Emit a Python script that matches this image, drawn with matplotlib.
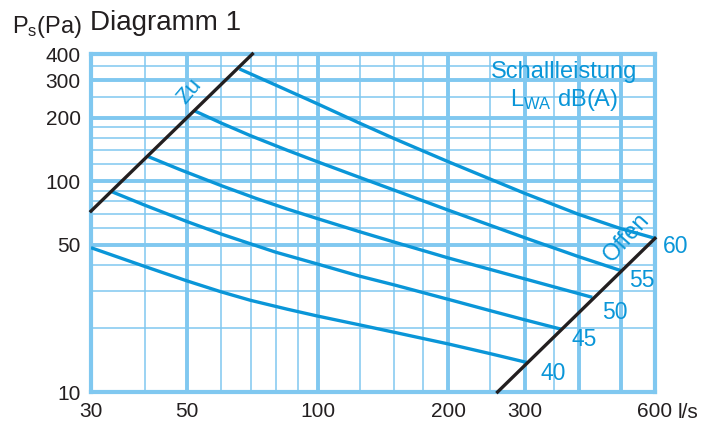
import matplotlib
matplotlib.use("Agg")
import matplotlib.pyplot as plt

plt.rcParams['font.family'] = ['Liberation Sans', 'DejaVu Sans']
plt.rcParams['mathtext.default'] = 'regular'

# Volumenstrom (l/s) und statischer Druck (Pa)
curve_levels = ['40', '45', '50', '55', '60']
curve_q = [
    [30, 40, 50, 60, 70, 85, 100, 125, 150, 200, 250, 304],
    [33.5, 40, 50, 60, 80, 100, 125, 150, 200, 250, 300, 366],
    [40.5, 48, 60, 72, 85, 100, 125, 150, 200, 300, 430],
    [52, 60, 70, 85, 100, 125, 150, 200, 300, 400, 505],
    [66, 80, 100, 125, 150, 200, 300, 400, 500, 600],
]
curve_p = [
    [48.3, 39.3, 33.6, 29.8, 27.2, 24.7, 22.9, 20.8, 19.2, 16.9, 15.2, 13.8],
    [89, 76.7, 64.2, 56.0, 46.0, 40.4, 35.4, 32.2, 27.5, 24.3, 22.0, 19.8],
    [131, 113.5, 95, 82.8, 73.7, 66.3, 57.5, 51.4, 43.2, 34.4, 28.1],
    [215, 188, 164, 140, 123.3, 104, 90.6, 72.8, 53.9, 43.8, 37.4],
    [340, 285, 232, 188, 159, 123.5, 87.5, 69.5, 59.5, 53.5],
]
# Kennlinien Klappe zu / offen
zu_q = [30, 70.7]
zu_p = [72, 400]
offen_q = [260, 600]
offen_p = [10, 53.5]

# Lage der Zahlen am Kurvenende
label_q = [349, 412, 485, 560, 671]
label_p = [12.2, 17.7, 23.9, 33.6, 49.2]

x_ticks = [30, 50, 100, 200, 300, 600]
y_ticks = [10, 50, 100, 200, 300, 400]
x_thin = [40, 60, 70, 80, 90, 125, 150, 175, 250, 350]
x_thick = [50, 100, 200, 300, 400, 500]
y_thin = [20, 30, 40, 60, 70, 80, 90, 120, 140, 160, 180, 250, 350]
y_thick = [50, 100, 200, 300]

grid_col = '#80c8f0'
blue = '#0a96d8'
dark = '#231f20'

fig = plt.figure(figsize=(7.19, 4.25), dpi=100)
ax = fig.add_axes([91 / 719, 33 / 425, 564 / 719, 338 / 425])
ax.set_xscale('log')
ax.set_yscale('log')
ax.set_xlim(30, 600)
ax.set_ylim(10, 400)

for v in x_thin:
    ax.axvline(v, color=grid_col, lw=1.1, zorder=1)
for v in x_thick:
    ax.axvline(v, color=grid_col, lw=2.8, zorder=1)
for v in y_thin:
    ax.axhline(v, color=grid_col, lw=1.1, zorder=1)
for v in y_thick:
    ax.axhline(v, color=grid_col, lw=2.8, zorder=1)
for s in ax.spines.values():
    s.set_color(grid_col)
    s.set_linewidth(3)

for q, p in zip(curve_q, curve_p):
    ax.plot(q, p, color=blue, lw=2.4, solid_capstyle='butt',
            solid_joinstyle='round', zorder=3)
ax.plot(zu_q, zu_p, color=dark, lw=2.4, zorder=4, clip_on=False)
ax.plot(offen_q, offen_p, color=dark, lw=2.4, zorder=4, clip_on=False)

for lev, q, p in zip(curve_levels, label_q, label_p):
    ax.text(q, p, lev, color=blue, fontsize=16.5, ha='center', va='center',
            clip_on=False)
ax.text(50.5, 267, 'Zu', color=blue, fontsize=16, rotation=50,
        ha='center', va='center')
ax.text(517, 54, 'Offen', color=blue, fontsize=17, rotation=48,
        ha='center', va='center')

ax.set_xticks(x_ticks)
ax.set_xticklabels([str(v) for v in x_ticks])
ax.set_yticks(y_ticks)
ax.set_yticklabels([str(v) for v in y_ticks])
ax.minorticks_off()
ax.tick_params(length=0, labelsize=15, colors=dark)
ax.tick_params(axis='x', pad=7)
ax.tick_params(axis='y', pad=7.5)

fig.text(678 / 719, 1 - 403 / 425, 'l/s', fontsize=15, color=dark, va='top')
fig.text(90 / 719, 1 - 30 / 425, 'Diagramm 1', fontsize=20, color=dark,
         va='baseline')
fig.text(12 / 719, 1 - 33 / 425, 'P$_{s}$(Pa)', fontsize=17, color=dark,
         va='baseline')
fig.text(564 / 719, 1 - 78 / 425, 'Schallleistung', fontsize=17, color=blue,
         ha='center', va='baseline')
fig.text(564 / 719, 1 - 106 / 425, 'L$_{WA}$ dB(A)', fontsize=17, color=blue,
         ha='center', va='baseline')

fig.savefig('out.png', dpi=100)
